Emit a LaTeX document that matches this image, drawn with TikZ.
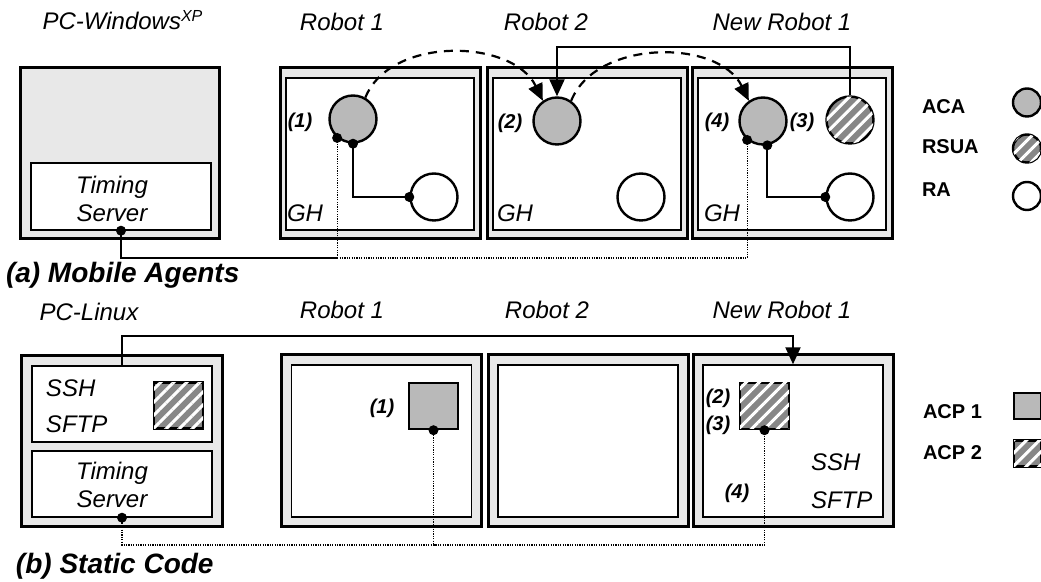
\documentclass[tikz,border=0pt]{standalone}
\usepackage{fontspec}
\setmainfont{Liberation Sans}
\usetikzlibrary{arrows.meta, patterns.meta, positioning, calc}

\begin{document}
\begin{tikzpicture}[x=0.5pt, y=-0.5pt, >={Triangle[length=8.5pt, width=7.5pt]},
  line width=1pt,
  host/.style={draw, line width=1.5pt, fill=gray!18, inner sep=0pt},
  hostin/.style={draw, line width=0.7pt, fill=white, inner sep=0pt},
  hatch/.style={fill=black!47, postaction={pattern={Lines[angle=45, distance=4.6pt, line width=1.5pt]}, pattern color=white}},
  agent/.style={circle, draw, line width=1.2pt, minimum size=23.5pt, inner sep=0pt},
  aca/.style={agent, fill=gray!55},
  ra/.style={agent, fill=white},
  rsua/.style={agent, hatch},
  acp/.style={draw, line width=1.2pt, minimum width=24.5pt, minimum height=23pt, inner sep=0pt},
  lab/.style={font=\fontsize{12}{14}\selectfont\itshape, inner sep=0pt},
  num/.style={font=\fontsize{10}{12}\selectfont\bfseries\itshape, inner sep=0pt},
  leg/.style={font=\fontsize{10}{12}\selectfont\bfseries, anchor=west, inner sep=0pt},
  figcap/.style={font=\fontsize{14}{16}\selectfont\bfseries\itshape, anchor=west, inner sep=0pt},
  mig/.style={->, line width=1.1pt, dash pattern=on 4.5pt off 3.5pt},
  wire/.style={dash pattern=on 0.6pt off 0.6pt, line width=0.6pt}
]
  \useasboundingbox (0,0) rectangle (1041,582);

  % ---------- (a) mobile agents ----------
  \node[lab] (pcwtxt) at (123,20) {PC-Windows\textsuperscript{XP}};
  \node[lab] (r1txt) at (342,22) {Robot 1};
  \node[lab] (r2txt) at (546,22) {Robot 2};
  \node[lab] (nrtxt) at (782,22) {New Robot 1};

  % PC host with timing server
  \node[host, minimum width=99.5pt, minimum height=85.5pt] (pcw) at (119.5,153.5) {};
  \node[hostin, minimum width=90pt, minimum height=33.5pt] (ts1) at (121,196.5) {};
  \node[lab, align=center] (ts1txt) at (112,199) {Timing\\Server};

  % robot hosts
  \foreach \n/\x in {r1/380, r2/587, nr/792} {
    \node[host, minimum width=100pt, minimum height=85.5pt] (\n) at (\x,153.5) {};
    \node[hostin, minimum width=94pt, minimum height=76pt] (\n-in) at (\x,154) {};
  }
  \node[lab] (gh1) at (305,213) {GH};
  \node[lab] (gh2) at (515,213) {GH};
  \node[lab] (gh3) at (722,213) {GH};

  % agents
  \node[aca] (r1aca) at (353,119) {};
  \node[ra] (r1ra) at (434,197) {};
  \node[aca] (r2aca) at (557,121) {};
  \node[ra] (r2ra) at (641,197) {};
  \node[aca] (nraca) at (763,121) {};
  \node[rsua] (nrrsua) at (850,120) {};
  \node[ra] (nrra) at (850,197) {};
  \node[num] (st1) at (300,122) {(1)};
  \node[num] (st2) at (510,123) {(2)};
  \node[num] (st4) at (717,122) {(4)};
  \node[num] (st3) at (802,122) {(3)};

  % agent links
  \draw (r1aca.south) |- (r1ra.west);
  \draw (nraca.-80) |- (nrra.west);
  \fill (r1aca.south) circle (2.5pt) (r1ra.west) circle (2.5pt);
  \fill (nraca.-80) circle (2.5pt) (nrra.west) circle (2.5pt);

  % migration
  \draw[->] (nrrsua.north) -- ++(0,-48) -| (r2aca.north);
  \draw[mig] (r1aca.60) .. controls +(25,-62) and +(-30,-62) .. (r2aca.125);
  \draw[mig] (r2aca.55) .. controls +(25,-62) and +(-30,-62) .. (nraca.125);

  % timing wires
  \coordinate (busA) at (r1aca.230 |- 0,258);
  \draw (ts1.south) |- (busA);
  \draw[wire] (busA) -- (r1aca.230);
  \draw[wire] (busA) -| (nraca.230);
  \fill (ts1.south) circle (2.5pt) (r1aca.230) circle (2.5pt) (nraca.230) circle (2.5pt);

  % legend
  \node[leg] (lgaca) at (921,107) {ACA};
  \node[leg] (lgrsua) at (921,147) {RSUA};
  \node[leg] (lgra) at (921,190) {RA};
  \node[aca, minimum size=14pt] (lgacac) at (1027,102.5) {};
  \node[rsua, minimum size=14pt] (lgrsuac) at (1027,148.5) {};
  \node[ra, minimum size=14pt] (lgrac) at (1027,196) {};

  \node[figcap] (capa) at (5,275) {(a) Mobile Agents};

  % ---------- (b) static code ----------
  \node[lab] (pcltxt) at (89,312) {PC-Linux};
  \node[lab] (r1btxt) at (342,310) {Robot 1};
  \node[lab] (r2btxt) at (547,310) {Robot 2};
  \node[lab] (nrbtxt) at (782,310) {New Robot 1};

  % PC host with ssh and timing server
  \node[host, minimum width=100.5pt, minimum height=85.5pt] (pcl) at (121.5,441.5) {};
  \node[hostin, minimum width=90pt, minimum height=38pt] (pclssh) at (122,404) {};
  \node[hostin, minimum width=90pt, minimum height=33pt] (pclts) at (122,484) {};
  \node[acp, hatch] (pclacp) at (178.5,405.5) {};
  \node[lab, anchor=west] (ssh1) at (45,388) {SSH};
  \node[lab, anchor=west] (sftp1) at (45,424) {SFTP};
  \node[lab, align=center] (ts2txt) at (112,485) {Timing\\Server};

  % robot hosts
  \foreach \n/\x in {r1b/381.5, r2b/588, nrb/793} {
    \node[host, minimum width=100pt, minimum height=86pt] (\n) at (\x,441) {};
    \node[hostin, minimum width=90pt, minimum height=76pt] (\n-in) at (\x,441) {};
  }
  \node[acp, fill=gray!55] (acp1) at (433.5,406) {};
  \node[acp, hatch] (acp2) at (764.5,406) {};
  \node[num] (sb1) at (382,408) {(1)};
  \node[num] (sb2) at (718,398) {(2)};
  \node[num] (sb3) at (718,425) {(3)};
  \node[num] (sb4) at (737,493) {(4)};
  \node[lab, anchor=west] (ssh2) at (810,462) {SSH};
  \node[lab, anchor=west] (sftp2) at (810,500) {SFTP};

  % copy and timing wires
  \draw[->] (pclssh.north) -- ++(0,-29) -| (nrb-in.north);
  \coordinate (busB) at (acp1.south |- 0,545);
  \draw[wire] (pclts.south) |- (busB) -| (acp2.south);
  \draw[wire] (acp1.south) -- (busB);
  \fill (pclts.south) circle (2.5pt) (acp1.south) circle (2.5pt) (acp2.south) circle (2.5pt);

  % legend
  \node[leg] (lgacp1) at (922,412) {ACP 1};
  \node[leg] (lgacp2) at (922,453) {ACP 2};
  \node[acp, fill=gray!55, minimum width=13.5pt, minimum height=13pt] (lgacp1b) at (1027.5,406) {};
  \node[acp, hatch, minimum width=13.5pt, minimum height=13pt] (lgacp2b) at (1027.5,453.5) {};

  \node[figcap] (capb) at (15,566) {(b) Static Code};
\end{tikzpicture}
\end{document}
